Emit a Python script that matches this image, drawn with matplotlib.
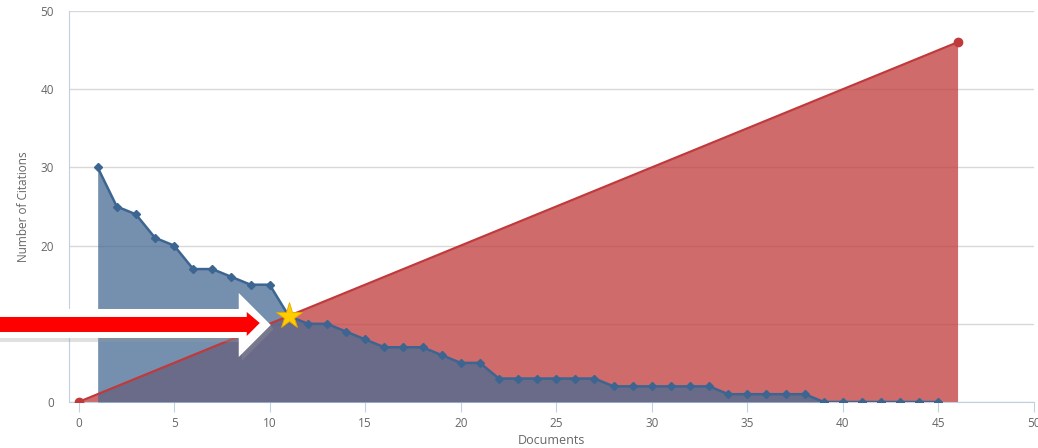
import numpy as np
import matplotlib
matplotlib.use("Agg")
import matplotlib.pyplot as plt
from matplotlib.patches import Polygon
from matplotlib.transforms import IdentityTransform

plt.rcParams['font.family'] = ['Open Sans', 'DejaVu Sans']

# citation counts per document (ranked)
docs = np.arange(1, 46)
citations = [30, 25, 24, 21, 20, 17, 17, 16, 15, 15,
             11, 10, 10, 9, 8, 7, 7, 7, 6, 5,
             5, 3, 3, 3, 3, 3, 3, 2, 2, 2,
             2, 2, 2, 1, 1, 1, 1, 1, 0, 0,
             0, 0, 0, 0, 0]
# diagonal y = x line
diag_x = [0, 46]
diag_y = [0, 46]
h_index = 11

x_ticks = list(range(0, 51, 5))
y_ticks = list(range(0, 51, 10))

W, H = 1038, 448
fig = plt.figure(figsize=(W / 100, H / 100), dpi=100)
ax = fig.add_axes([69 / W, (H - 402) / H, (1034 - 69) / W, (402 - 11) / H])

grey = "#666666"
axis_col = "#C0D0E0"

# red diagonal area
ax.fill_between(diag_x, diag_y, 0, color="#C13A3A", alpha=0.75, lw=0, zorder=2)
ax.plot(diag_x, diag_y, color="#C0393B", lw=1.6, marker="o", ms=6, zorder=4)

# blue citation area on top
ax.fill_between(docs, citations, 0, color="#476B93", alpha=0.75, lw=0, zorder=3)
ax.plot(docs, citations, color="#3D6591", lw=1.8, marker="D", ms=4.5, zorder=5)

# h-index star
ax.plot([h_index], [h_index], marker="*", ms=20, color="#FFCC00",
        mec="#E8A800", mew=0.6, zorder=7, clip_on=False)

ax.set_xlim(-0.5, 50)
ax.set_ylim(0, 50)
ax.set_xticks(x_ticks)
ax.set_yticks(y_ticks)
ax.grid(axis="y", color="#D8D8D8", lw=1)
ax.set_axisbelow(True)
for s in ["top", "right"]:
    ax.spines[s].set_visible(False)
ax.spines["left"].set_color(axis_col)
ax.spines["bottom"].set_color(axis_col)
ax.tick_params(axis="x", colors=axis_col, labelcolor=grey, labelsize=8.5, length=7)
ax.tick_params(axis="y", length=0, labelcolor=grey, labelsize=8.5, pad=11)
ax.set_xlabel("Documents", color=grey, fontsize=9, labelpad=3)
ax.set_ylabel("Number of Citations", color=grey, fontsize=8.5, labelpad=7)

# arrow pointing at the star, placed relative to the star's pixel position
sx, sy = ax.transData.transform((h_index, h_index))

def pts(coords):
    # coords given as image-style offsets (dx right, dy down) from the star
    return [(sx + dx, sy - dy) for dx, dy in coords]

white_arrow = [(-300, -7), (-50, -7), (-50, -23), (-18, 9), (-50, 41), (-50, 22), (-300, 22)]
red_arrow = [(-300, 1), (-42, 1), (-42, -4), (-29, 7), (-42, 20), (-42, 16), (-300, 16)]
shadow = [(x + 3, y + 4) for x, y in white_arrow]

for poly, col, z, a in [(shadow, "#999999", 8, 0.3),
                        (white_arrow, "white", 9, 1.0),
                        (red_arrow, "#FF0000", 10, 1.0)]:
    p = Polygon(pts(poly), closed=True, facecolor=col, edgecolor="none",
                alpha=a, transform=IdentityTransform(), zorder=z)
    fig.add_artist(p)

fig.savefig("out.png", dpi=100)
